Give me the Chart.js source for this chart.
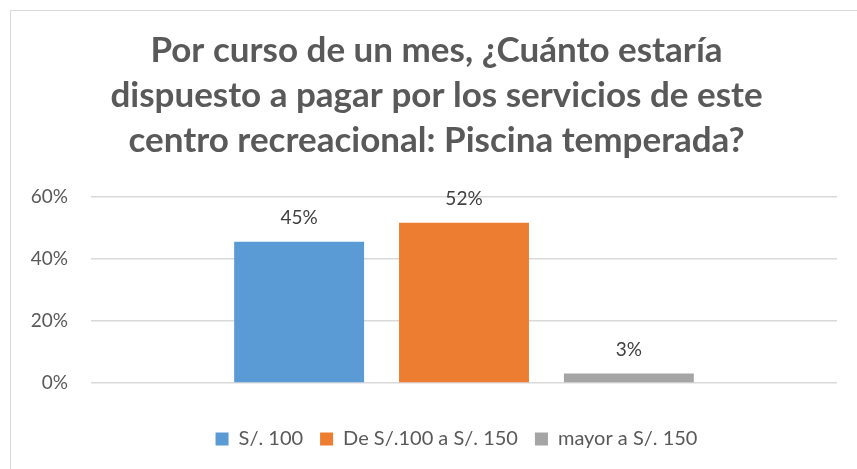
<!DOCTYPE html>
<html>
<head>
<meta charset="utf-8">
<script src="https://cdn.jsdelivr.net/npm/chart.js@4"></script>
<style>
  html, body { margin: 0; padding: 0; background: #fff; overflow: hidden; }
  #wrap { position: absolute; left: 0; top: 0; width: 857px; height: 469px; }
  #frame { position: absolute; left: 10px; top: 10px; width: 900px; height: 500px; border: 1px solid #d9d9d9; pointer-events: none; }
</style>
</head>
<body>
<div id="wrap"><canvas id="chart"></canvas></div>
<div id="frame"></div>
<script>
const titleLines = [
    'Por curso de un mes, ¿Cuánto estaría',
    'dispuesto a pagar por los servicios de este',
    'centro recreacional: Piscina temperada?'
];
const categories = [''];
const seriesNames = ['S/. 100', 'De S/.100 a S/. 150', 'mayor a S/. 150'];
const seriesValues = [0.4545, 0.5152, 0.0303];
const seriesColors = ['#5B9BD5', '#ED7D31', '#A5A5A5'];
const yTicks = [0, 0.2, 0.4, 0.6];

const FONT = 'Lato, Carlito, Calibri, sans-serif';

// value labels above the bars
const barLabels = {
    id: 'barLabels',
    afterDatasetsDraw(chart) {
        const ctx = chart.ctx;
        ctx.save();
        ctx.font = '19px ' + FONT;
        ctx.fillStyle = '#404040';
        ctx.textAlign = 'center';
        ctx.textBaseline = 'alphabetic';
        chart.data.datasets.forEach((ds, i) => {
            const bar = chart.getDatasetMeta(i).data[0];
            ctx.fillText(Math.round(ds.data[0] * 100) + '%', bar.x, bar.y - 18);
        });
        ctx.restore();
    }
};

// Excel centres title and legend on a wider box than the canvas
const shiftBlocks = {
    id: 'shiftBlocks',
    afterLayout(chart) {
        chart.titleBlock.left += 18;
        chart.titleBlock.right += 18;
        chart.legend.left += 38;
        chart.legend.right += 38;
    }
};

const datasets = seriesNames.map((name, i) => ({
    label: name,
    data: [seriesValues[i]],
    backgroundColor: seriesColors[i],
    borderWidth: 0,
    categoryPercentage: 0.663,
    barPercentage: 0.788
}));

const chart = new Chart(document.getElementById('chart'), {
    type: 'bar',
    data: { labels: categories, datasets: datasets },
    plugins: [barLabels, shiftBlocks],
    options: {
        responsive: true,
        maintainAspectRatio: false,
        animation: false,
        layout: { padding: { left: 0, right: 20, top: 0, bottom: 10 } },
        plugins: {
            title: {
                display: true,
                text: titleLines,
                color: '#595959',
                font: { family: FONT, size: 35, weight: 'bold', lineHeight: 1.29 },
                padding: { top: 28, bottom: 33 }
            },
            legend: {
                position: 'bottom',
                labels: {
                    color: '#595959',
                    font: { family: FONT, size: 20 },
                    boxWidth: 13,
                    boxHeight: 13,
                    padding: 17
                }
            },
            tooltip: { enabled: false }
        },
        scales: {
            x: {
                afterFit(scale) { scale.height = 29; },
                grid: { display: false },
                border: { display: false },
                ticks: { display: false }
            },
            y: {
                min: 0,
                max: 0.6,
                afterFit(scale) { scale.width = 91; },
                afterBuildTicks(scale) { scale.ticks = yTicks.map(v => ({ value: v })); },
                grid: { color: '#d9d9d9', lineWidth: 1.5, drawTicks: false },
                border: { display: false },
                ticks: {
                    color: '#595959',
                    font: { family: FONT, size: 19 },
                    padding: 23,
                    callback: v => Math.round(v * 100) + '%'
                }
            }
        }
    }
});
</script>
</body>
</html>
